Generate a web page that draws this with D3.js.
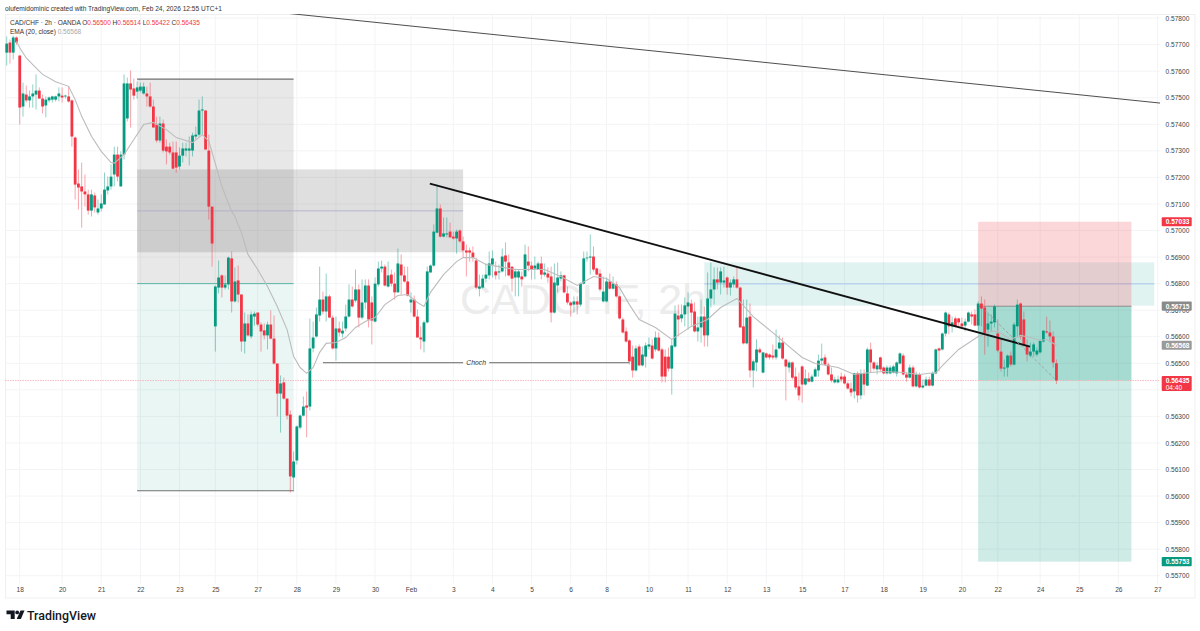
<!DOCTYPE html>
<html>
<head>
<meta charset="utf-8">
<script src="https://cdn.jsdelivr.net/npm/d3@7"></script>
<style>
  html, body { margin: 0; padding: 0; background: #fff; }
  svg { display: block; font-family: "Liberation Sans", sans-serif; }
</style>
</head>
<body>
<div id="chart"></div>
<script>
// Candle values, in 1/100000 of a franc, one entry per 2h bar
const opens = [57670,57708,57670,57727,57659,57467,57512,57490,57505,57512,57527,57497,57471,57490,57493,57493,57505,57508,57505,57505,
57490,57350,57177,57166,57147,57136,57075,57132,57068,57083,57098,57151,57166,57211,57286,57166,57286,57422,57554,57535,
57523,57527,57516,57516,57505,57467,57399,57339,57403,57316,57316,57294,57294,57241,57282,57301,57301,57301,57354,57361,
57452,57452,57301,57090,56639,56785,56831,56785,56797,56895,56733,56812,56759,56582,56650,56601,56676,56691,56646,56624,
56605,56646,56593,56499,56386,56428,56367,56307,56070,56134,56258,56303,56341,56337,56556,56601,56680,56740,56695,56752,
56672,56556,56631,56612,56631,56676,56740,56736,56778,56672,56729,56793,56729,56657,56797,56857,56864,56789,56834,56800,
56767,56872,56831,56808,56729,56740,56676,56597,56582,56654,56842,56868,56992,57083,56977,56985,56996,56977,56970,57000,
56959,56925,56925,56917,56887,56781,56785,56819,56831,56872,56846,56842,56846,56906,56880,56864,56823,56823,56827,56827,
56883,56868,56857,56853,56876,56834,56838,56827,56691,56793,56819,56831,56763,56729,56721,56733,56721,56800,56895,56898,
56902,56857,56838,56733,56733,56808,56781,56797,56752,56665,56620,56586,56525,56473,56563,56492,56525,56563,56567,56552,
56597,56552,56525,56525,56480,56563,56680,56669,56684,56714,56725,56695,56620,56635,56676,56605,56744,56778,56816,56804,
56804,56823,56785,56797,56816,56785,56639,56575,56676,56473,56503,56552,56465,56537,56533,56529,56522,56556,56578,56514,
56484,56503,56450,56413,56488,56420,56443,56431,56450,56473,56510,56522,56495,56458,56428,56428,56450,56450,56424,56405,
56394,56462,56379,56462,56416,56552,56503,56477,56522,56484,56462,56462,56465,56462,56499,56529,56458,56446,56484,56413,
56458,56409,56416,56439,56416,56462,56556,56552,56612,56684,56639,56669,56669,56650,56642,56657,56684,56684,56642,56725,
56710,56627,56650,56654,56612,56544,56480,56484,56529,56495,56639,56725,56665,56567,56529,56544,56533,56541,56582,56620,
56616,56601,56500];
const highs = [57731,57719,57734,57731,57659,57557,57546,57527,57550,57588,57539,57512,57505,57505,57508,57508,57539,57539,57512,57542,
57493,57354,57230,57256,57211,57154,57154,57143,57117,57136,57218,57203,57249,57316,57316,57298,57588,57576,57603,57572,
57561,57557,57557,57542,57557,57493,57429,57429,57418,57343,57331,57335,57335,57313,57331,57331,57354,57369,57392,57493,
57505,57452,57361,57090,56793,56887,56834,56831,56902,56921,56861,56868,56759,56691,56684,56695,56695,56691,56654,56650,
56657,56699,56680,56499,56454,56446,56367,56322,56168,56266,56307,56375,56394,56669,56657,56710,56864,56770,56838,56759,
56680,56676,56657,56657,56721,56797,56789,56853,56797,56816,56816,56816,56752,56823,56883,56887,56872,56883,56853,56842,
56932,56910,56864,56864,56767,56755,56703,56639,56661,56864,56872,57023,57173,57098,57049,57049,57030,56996,57004,57004,
56977,56947,56936,56940,56898,56834,56834,56876,56921,56925,56883,56872,56932,56955,56910,56864,56857,56853,56846,56947,
56940,56883,56902,56883,56902,56876,56861,56864,56876,56880,56846,56834,56789,56733,56752,56752,56804,56921,56921,56985,
56940,56861,56853,56827,56823,56838,56827,56808,56755,56672,56635,56590,56567,56567,56571,56563,56578,56597,56590,56620,
56616,56559,56552,56559,56590,56718,56721,56721,56748,56767,56740,56729,56676,56740,56714,56842,56880,56861,56861,56861,
56864,56827,56816,56827,56861,56789,56740,56740,56725,56514,56590,56559,56541,56541,56537,56571,56627,56605,56597,56518,
56510,56507,56484,56465,56492,56477,56465,56458,56484,56533,56574,56533,56503,56484,56450,56454,56465,56458,56431,56428,
56465,56469,56477,56477,56559,56578,56507,56503,56525,56488,56492,56492,56495,56507,56541,56537,56465,56495,56492,56469,
56465,56439,56450,56450,56469,56556,56559,56616,56695,56691,56676,56676,56672,56672,56669,56695,56695,56703,56733,56752,
56740,56691,56684,56721,56665,56590,56514,56533,56544,56654,56740,56729,56695,56590,56578,56578,56559,56590,56623,56676,
56661,56620,56514];
const lows = [57621,57629,57644,57700,57399,57429,57482,57463,57463,57456,57497,57441,57426,57482,57482,57486,57486,57482,57497,57482,
57316,57117,57079,57011,57090,57060,57053,57068,57060,57072,57098,57136,57154,57166,57185,57166,57267,57411,57388,57493,
57497,57520,57512,57467,57463,57388,57331,57331,57294,57249,57286,57230,57218,57230,57256,57279,57245,57279,57343,57354,
57361,57305,57041,56864,56544,56763,56748,56778,56778,56691,56729,56729,56544,56537,56601,56593,56642,56639,56544,56590,
56552,56590,56495,56300,56239,56364,56288,56013,56017,56119,56251,56300,56221,56322,56541,56597,56657,56684,56657,56672,
56552,56510,56601,56597,56620,56672,56710,56729,56635,56665,56703,56635,56571,56654,56789,56842,56789,56785,56789,56740,
56767,56759,56804,56752,56691,56672,56597,56552,56541,56650,56842,56864,56989,56974,56974,56974,56974,56966,56913,56955,
56898,56827,56883,56883,56778,56752,56781,56804,56816,56823,56816,56816,56842,56827,56827,56770,56752,56752,56789,56823,
56846,56816,56816,56853,56816,56827,56804,56654,56687,56767,56808,56763,56721,56676,56691,56684,56714,56797,56883,56834,
56846,56831,56770,56729,56729,56778,56778,56748,56665,56612,56578,56495,56446,56469,56488,56488,56484,56552,56514,56544,
56544,56428,56428,56469,56382,56559,56601,56654,56639,56627,56639,56616,56582,56578,56563,56563,56710,56721,56778,56759,
56785,56759,56755,56785,56781,56635,56571,56571,56446,56409,56469,56537,56462,56518,56514,56514,56514,56552,56514,56360,
56465,56439,56401,56360,56352,56416,56428,56428,56450,56450,56495,56492,56454,56428,56424,56424,56428,56420,56401,56375,
56367,56352,56364,56379,56413,56465,56473,56458,56469,56458,56458,56458,56462,56450,56495,56454,56431,56443,56409,56409,
56405,56405,56413,56413,56413,56458,56469,56548,56601,56609,56616,56635,56639,56635,56620,56654,56646,56639,56623,56639,
56533,56563,56620,56635,56541,56469,56450,56450,56488,56492,56597,56590,56563,56507,56522,56525,56525,56537,56578,56612,
56578,56484,56422];
const closes = [57704,57670,57727,57708,57463,57516,57490,57505,57516,57527,57497,57467,57493,57501,57505,57505,57516,57501,57508,57486,
57354,57173,57162,57147,57136,57075,57136,57087,57083,57102,57154,57166,57203,57286,57203,57286,57554,57554,57531,57508,
57539,57542,57542,57505,57467,57388,57339,57403,57301,57298,57294,57233,57237,57282,57309,57309,57309,57358,57361,57452,
57456,57305,57090,56951,56789,56823,56785,56797,56898,56733,56808,56759,56582,56650,56605,56684,56687,56646,56620,56605,
56646,56593,56499,56386,56424,56367,56303,56074,56130,56262,56303,56337,56333,56556,56597,56684,56740,56695,56752,56672,
56556,56631,56616,56623,56676,56740,56714,56778,56672,56729,56793,56665,56661,56800,56857,56864,56793,56831,56800,56767,
56876,56831,56808,56755,56740,56676,56597,56590,56654,56846,56868,56996,57083,56977,56989,56989,56974,56970,56996,56959,
56925,56917,56917,56898,56785,56789,56819,56834,56876,56895,56831,56846,56902,56883,56831,56819,56846,56846,56816,56910,
56868,56853,56868,56876,56834,56842,56823,56691,56804,56823,56831,56767,56729,56718,56733,56721,56800,56895,56898,56902,
56853,56834,56778,56770,56808,56781,56800,56752,56669,56616,56582,56507,56473,56556,56492,56533,56567,56571,56518,56597,
56548,56450,56450,56480,56567,56687,56665,56684,56718,56729,56691,56620,56635,56676,56605,56744,56778,56816,56804,56846,
56812,56785,56804,56816,56785,56635,56575,56672,56473,56507,56552,56541,56541,56522,56522,56522,56552,56578,56518,56488,
56503,56446,56409,56379,56420,56443,56431,56450,56477,56510,56518,56495,56458,56435,56439,56439,56439,56424,56405,56390,
56462,56379,56462,56420,56552,56503,56480,56492,56477,56462,56484,56484,56488,56503,56537,56458,56446,56484,56413,56458,
56409,56416,56439,56416,56462,56552,56548,56612,56691,56639,56654,56639,56654,56639,56657,56691,56676,56642,56725,56706,
56608,56650,56657,56714,56548,56480,56484,56529,56495,56646,56721,56601,56567,56533,56544,56571,56548,56586,56623,56616,
56601,56503,56435];

// EMA (20, close) at every few bars
const emaBars = [3,4,6,8,11,15,19,21,23,26,29,32,33,36,39,42,45,49,52,57,60,62,64,66,69,70,72,74,77,80,83,86,88,90,92,94,96,98,101,104,107,110,113,116,120,123,126,128,130,134,138,140,143,147,151,156,161,165,170,175,180,184,188,191,194,199,204,210,215,219,224,229,236,240,244,248,255,260,265,269,275,280,285,288,292,298,302,304,308,311,314,317,319,322];
const emaValues = [57713,57688,57650,57625,57588,57560,57543,57493,57430,57355,57298,57256,57254,57286,57343,57399,57407,57380,57350,57331,57361,57336,57252,57166,57072,57053,56992,56910,56853,56789,56714,56627,56526,56484,56462,56484,56541,56575,56578,56597,56635,56657,56672,56721,56755,56759,56729,56714,56767,56834,56883,56898,56898,56872,56864,56853,56853,56853,56827,56793,56827,56819,56785,56721,56665,56635,56590,56639,56665,56710,56744,56676,56605,56563,56522,56499,56484,56458,56465,56469,56465,56458,56465,56503,56552,56601,56620,56620,56590,56605,56597,56586,56590,56568];

// Axis labels
const priceTicks = d3.range(55700, 57801, 100);
const hiddenPriceLabels = [56400]; // sits behind the last price tag
const timeBars = [4,17,29,41,53,64,77,89,101,113,124,137,149,161,173,184,197,209,221,233,244,257,269,281,293,304,317,329,341,353];
const timeLabels = ["18","20","21","22","23","25","27","28","29","30","Feb","3","4","5","6","8","10","11","12","13","15","17","18","19","20","22","24","25","26","27"];

// Tags on the price scale
const tagPrices = [57033, 56715, 56568, 56435, 55753];
const tagLabels = ["0.57033", "0.56715", "0.56568", "0.56435", "0.55753"];
const tagColors = ["#f23645", "#8a8a8a", "#9a9a9a", "#f23645", "#089981"];

// Drawings on the chart, as [bar, price]
const thinTrend = [[86.9, 57817], [353.8, 57480]];
const boldTrend = [[129.8, 57177], [313.9, 56563]];
const forecastLine = [[300, 56700], [322, 56435]];

const upColor = "#089981", downColor = "#f23645";
const width = 1200, height = 631;
const plot = { left: 5, right: 1160, top: 14, bottom: 584 };

const svg = d3.select("#chart").append("svg")
    .attr("width", width)
    .attr("height", height);

const x = d3.scaleLinear().domain([0, 353]).range([6.7, 1157.5]);
const y = d3.scaleLinear().domain([55700, 57800]).range([575.7, 18.1]);

svg.append("defs").append("clipPath").attr("id", "plotClip")
    .append("rect")
    .attr("x", plot.left).attr("y", plot.top)
    .attr("width", plot.right - plot.left).attr("height", plot.bottom - plot.top);

// Outer frame
svg.append("rect")
    .attr("x", 5.5).attr("y", 14.5)
    .attr("width", 1189.5).attr("height", 583.5)
    .attr("fill", "none").attr("stroke", "#eeeff1");

// Grid
svg.append("g").selectAll("line").data(priceTicks).join("line")
    .attr("x1", plot.left).attr("x2", plot.right)
    .attr("y1", d => y(d)).attr("y2", d => y(d))
    .attr("stroke", "#f3f4f6");
svg.append("g").selectAll("line").data(timeBars).join("line")
    .attr("x1", d => x(d)).attr("x2", d => x(d))
    .attr("y1", plot.top).attr("y2", plot.bottom)
    .attr("stroke", "#f3f4f6");

// Watermark
svg.append("text")
    .attr("x", 460).attr("y", 314)
    .attr("font-size", 43)
    .attr("fill", "#ececec")
    .text("CADCHF, 2h");

const chart = svg.append("g").attr("clip-path", "url(#plotClip)");

// Shaded zones, given in bars and prices
const zone = (bar0, bar1, p0, p1, fill) => chart.append("rect")
    .attr("x", x(bar0)).attr("width", x(bar1) - x(bar0))
    .attr("y", y(p0)).attr("height", y(p1) - y(p0))
    .attr("fill", fill);
const level = (bar0, bar1, p, stroke, w) => chart.append("line")
    .attr("x1", x(bar0)).attr("x2", x(bar1))
    .attr("y1", y(p)).attr("y2", y(p))
    .attr("stroke", stroke).attr("stroke-width", w);

// Long tool on the left
zone(40, 88, 57570, 56800, "rgba(120,120,120,0.17)");
zone(40, 88, 56800, 56020, "rgba(8,153,129,0.09)");
level(40, 88, 57570, "#6f6f6f", 1.2);
level(40, 88, 56800, "#5fb5a6", 1);
level(40, 88, 56020, "#6f6f6f", 1.2);

// Supply block
zone(40, 140, 57230, 56918, "rgba(110,110,110,0.22)");
level(40, 140, 57074, "#a9aec8", 0.8);

// Demand block on the right
zone(214, 352, 56880, 56717, "rgba(8,153,129,0.12)");
level(214, 352, 56799, "#a8c7ef", 1);

// Short position tool
zone(298, 345, 57033, 56715, "rgba(242,54,69,0.2)");
zone(298, 345, 56715, 55753, "rgba(8,153,129,0.2)");
zone(298, 345, 56715, 56435, "rgba(8,153,129,0.2)");
level(298, 345, 56715, "#8a8a8a", 1);

// Last price line
chart.append("line")
    .attr("x1", plot.left).attr("x2", plot.right)
    .attr("y1", y(56435)).attr("y2", y(56435))
    .attr("stroke", "#f7a9b0").attr("stroke-width", 0.8)
    .attr("stroke-dasharray", "1.5 1");

// Candles
const bars = d3.range(opens.length);
const barColor = i => closes[i] >= opens[i] ? upColor : downColor;
chart.append("g").selectAll("line").data(bars).join("line")
    .attr("x1", i => x(i)).attr("x2", i => x(i))
    .attr("y1", i => y(highs[i])).attr("y2", i => y(lows[i]))
    .attr("stroke", barColor)
    .attr("stroke-opacity", 0.45)
    .attr("stroke-width", 1);
chart.append("g").selectAll("rect").data(bars).join("rect")
    .attr("x", i => x(i) - 1.4)
    .attr("width", 2.8)
    .attr("y", i => y(Math.max(opens[i], closes[i])))
    .attr("height", i => Math.max(0.8, Math.abs(y(opens[i]) - y(closes[i]))))
    .attr("fill", barColor);

// EMA
const emaLine = d3.line().x(d => x(d[0])).y(d => y(d[1]));
chart.append("path")
    .datum(emaBars.map((b, i) => [b, emaValues[i]]))
    .attr("d", emaLine)
    .attr("fill", "none")
    .attr("stroke", "#bcbcbc")
    .attr("stroke-width", 1.1);

// Trend lines
const drawnLine = d3.line().x(d => x(d[0])).y(d => y(d[1]));
chart.append("path").attr("d", drawnLine(thinTrend))
    .attr("stroke", "#3a3a3a").attr("stroke-width", 0.9).attr("fill", "none");
chart.append("path").attr("d", drawnLine(boldTrend))
    .attr("stroke", "#111").attr("stroke-width", 1.8).attr("fill", "none");
chart.append("path").attr("d", drawnLine(forecastLine))
    .attr("stroke", "#9a9a9a").attr("stroke-width", 0.8)
    .attr("stroke-dasharray", "3 2").attr("fill", "none");

// Choch line with its label in a gap
const chochPrice = 56502;
level(97, 140, chochPrice, "#555", 0.9);
level(148, 191, chochPrice, "#555", 0.9);
svg.append("text")
    .attr("x", x(144)).attr("y", y(chochPrice) + 2.4)
    .attr("text-anchor", "middle")
    .attr("font-size", 6.8).attr("font-style", "italic").attr("fill", "#333")
    .text("Choch");

// Price axis
const yAxis = svg.append("g")
    .attr("transform", `translate(${plot.right + 5.5},0)`)
    .call(d3.axisRight(y)
        .tickValues(priceTicks.filter(p => !hiddenPriceLabels.includes(p)))
        .tickSize(0)
        .tickPadding(0)
        .tickFormat(d => (d / 100000).toFixed(5)));
yAxis.select(".domain").remove();
yAxis.selectAll("text").attr("font-size", 6.6).attr("fill", "#444").attr("font-family", "Liberation Sans");

// Time axis
const xAxis = svg.append("g")
    .attr("transform", `translate(0,587)`)
    .call(d3.axisBottom(x)
        .tickValues(timeBars)
        .tickSize(0)
        .tickPadding(0)
        .tickFormat((d, i) => timeLabels[i]));
xAxis.select(".domain").remove();
xAxis.selectAll("text").attr("font-size", 6.6).attr("fill", "#444").attr("font-family", "Liberation Sans");

// Price tags
const tags = svg.append("g").selectAll("g").data(tagPrices).join("g")
    .attr("transform", d => `translate(1161.7,${y(d)})`);
tags.append("rect")
    .attr("y", d => -4.6)
    .attr("width", 30)
    .attr("height", (d, i) => tagLabels[i] === "0.56435" ? 15 : 9.2)
    .attr("rx", 1)
    .attr("fill", (d, i) => tagColors[i]);
tags.append("text")
    .attr("x", 4).attr("y", 2.4)
    .attr("font-size", 6.6).attr("font-weight", "bold").attr("fill", "#fff")
    .text((d, i) => tagLabels[i]);
svg.append("text")
    .attr("x", 1165.7).attr("y", y(56435) + 9.5)
    .attr("font-size", 6.6).attr("fill", "#fff")
    .text("04:40");

// Header and legend
svg.append("text")
    .attr("x", 5).attr("y", 10.5)
    .attr("font-size", 6.6).attr("fill", "#333")
    .text("olufemidominic created with TradingView.com, Feb 24, 2026 12:55 UTC+1");

const legendA = svg.append("text").attr("x", 10).attr("y", 24.8).attr("font-size", 6.5).attr("fill", "#333");
legendA.append("tspan").text("CAD/CHF · 2h · OANDA  ");
[["O", "0.56500"], ["H", "0.56514"], ["L", "0.56422"], ["C", "0.56435"]].forEach(pair => {
    legendA.append("tspan").text(pair[0]);
    legendA.append("tspan").attr("fill", "#f23645").text(pair[1] + "  ");
});
const legendB = svg.append("text").attr("x", 10).attr("y", 34).attr("font-size", 6.5).attr("fill", "#333");
legendB.append("tspan").text("EMA (20, close)  ");
legendB.append("tspan").attr("fill", "#a8a8a8").text("0.56568");

// TradingView logo
const logo = svg.append("g").attr("fill", "#131722");
logo.append("path").attr("d", "M6.5 610.5h8.2v8.6h-4v-4.8h-4.2z");
logo.append("circle").attr("cx", 17.2).attr("cy", 612.4).attr("r", 1.9);
logo.append("path").attr("d", "M20.5 610.5h4l-3.6 8.6h-4.2z");
svg.append("text")
    .attr("x", 27).attr("y", 619.5)
    .attr("font-family", "Roboto, sans-serif")
    .attr("font-size", 12.4).attr("font-weight", 500).attr("fill", "#131722")
    .text("TradingView");
</script>
</body>
</html>
